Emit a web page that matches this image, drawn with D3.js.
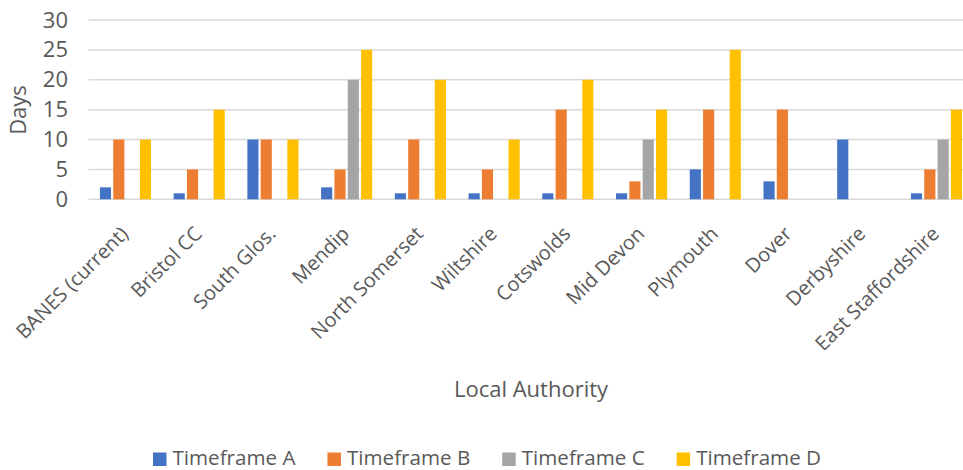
<!DOCTYPE html>
<html>
<head>
<meta charset="utf-8">
<script src="https://cdn.jsdelivr.net/npm/d3@7"></script>
<style>
  html, body { margin: 0; padding: 0; background: #fff; overflow: hidden; }
  svg { display: block; }
  text { font-family: "Open Sans", "Segoe UI", sans-serif; fill: #595959; }
</style>
</head>
<body>
<svg id="chart" width="963" height="470"></svg>
<script>
const categories = ["BANES (current)", "Bristol CC", "South Glos.", "Mendip", "North Somerset",
  "Wiltshire", "Cotswolds", "Mid Devon", "Plymouth", "Dover", "Derbyshire", "East Staffordshire"];
const seriesNames = ["Timeframe A", "Timeframe B", "Timeframe C", "Timeframe D"];
const timeframeA = [2, 1, 10, 2, 1, 1, 1, 1, 5, 3, 10, 1];
const timeframeB = [10, 5, 10, 5, 10, 5, 15, 3, 15, 15, 0, 5];
const timeframeC = [0, 0, 0, 20, 0, 0, 0, 10, 0, 0, 0, 10];
const timeframeD = [10, 15, 10, 25, 20, 10, 20, 15, 25, 0, 0, 15];
const yTicks = [0, 5, 10, 15, 20, 25, 30];
const colors = ["#4472C4", "#ED7D31", "#A5A5A5", "#FFC000"];
const yTitle = "Days";
const xTitle = "Local Authority";

const seriesValues = [timeframeA, timeframeB, timeframeC, timeframeD];
const svg = d3.select("#chart");

const plotLeft = 88.6, step = 73.73;
const plotRight = plotLeft + step * categories.length;
const plotTop = 20, plotBottom = 199.3;

const x0 = d3.scaleBand().domain(categories).range([plotLeft, plotRight])
  .paddingInner(0.277).paddingOuter(0.1385);
const x1 = d3.scaleBand().domain(seriesNames).range([0, x0.bandwidth()]).padding(0);
const y = d3.scaleLinear().domain([0, 30]).range([plotBottom, plotTop]);

// gridlines
svg.append("g").selectAll("line").data(yTicks).join("line")
  .attr("x1", plotLeft).attr("x2", plotRight)
  .attr("y1", d => y(d)).attr("y2", d => y(d))
  .attr("stroke", "#d9d9d9").attr("stroke-width", 1.5);

// y axis labels
const yAxis = d3.axisLeft(y).tickValues(yTicks).tickSize(0).tickPadding(0);
const yg = svg.append("g").attr("transform", `translate(68,0)`).call(yAxis);
yg.select(".domain").remove();
yg.selectAll("text").attr("font-size", 22).attr("fill", "#595959")
  .style("font-family", "'Open Sans', sans-serif");

// bars
const groups = svg.append("g").selectAll("g").data(categories).join("g")
  .attr("transform", d => `translate(${x0(d)},0)`);
groups.selectAll("rect")
  .data((c, ci) => seriesNames.map((s, si) => ({ s, si, v: seriesValues[si][ci] })))
  .join("rect")
  .filter(d => d.v > 0)
  .attr("x", d => x1(d.s) + 1.1)
  .attr("width", x1.bandwidth() - 2.2)
  .attr("y", d => y(d.v))
  .attr("height", d => y(0) - y(d.v))
  .attr("fill", d => colors[d.si]);

// x axis category labels
const xg = svg.append("g");
xg.selectAll("text").data(categories).join("text")
  .attr("transform", d => `translate(${x0(d) + x0.bandwidth() / 2 + 4},235) rotate(-45)`)
  .attr("text-anchor", "end")
  .attr("font-size", 20)
  .text(d => d);

// axis titles
svg.append("text")
  .attr("transform", "translate(26,110) rotate(-90)")
  .attr("text-anchor", "middle")
  .attr("font-size", 22)
  .text(yTitle);

svg.append("text")
  .attr("x", 531).attr("y", 397)
  .attr("text-anchor", "middle")
  .attr("font-size", 22)
  .text(xTitle);

// legend
const lg = svg.append("g");
const items = lg.selectAll("g").data(seriesNames).join("g");
items.append("rect").attr("width", 13.5).attr("height", 13.5).attr("y", 452.5)
  .attr("fill", (d, i) => colors[i]);
items.append("text").attr("x", 19.5).attr("y", 464.5).attr("font-size", 20.6).text(d => d);
let xpos = 153;
const positions = [];
items.each(function () {
  const w = d3.select(this).select("text").node().getComputedTextLength();
  positions.push(xpos);
  xpos += 19.5 + w + 32;
});
items.attr("transform", (d, i) => `translate(${positions[i]},0)`);
</script>
</body>
</html>
